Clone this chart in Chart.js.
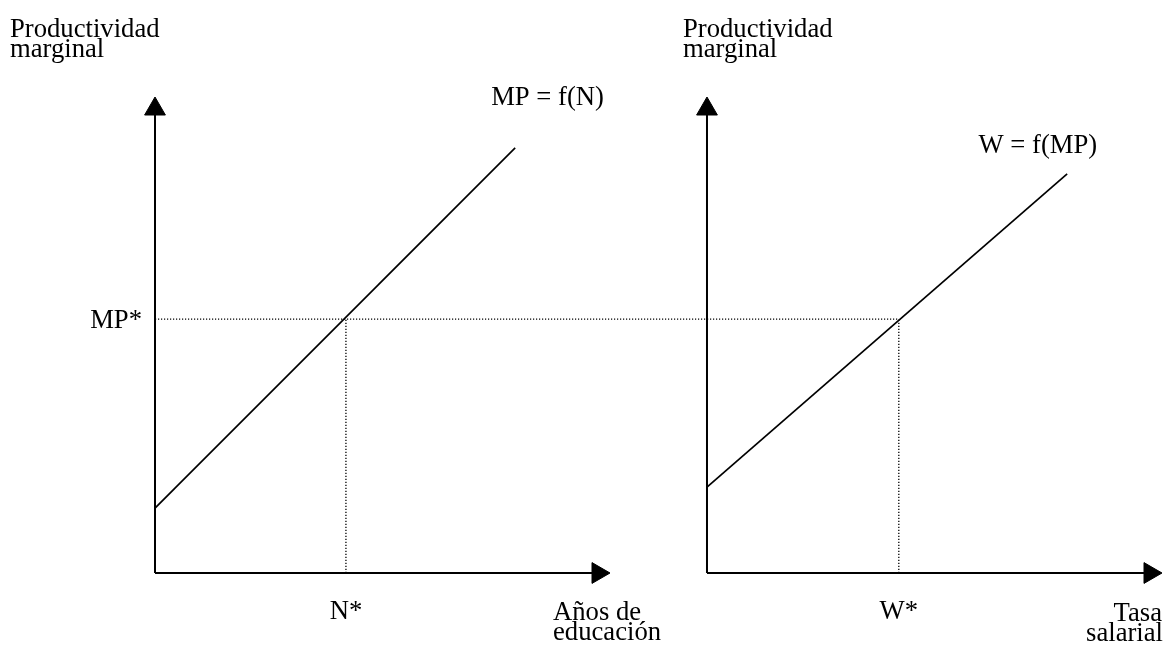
<!DOCTYPE html>
<html>
<head>
<meta charset="utf-8">
<script src="https://cdn.jsdelivr.net/npm/chart.js@4/dist/chart.umd.min.js"></script>
<style>
  html, body { margin: 0; padding: 0; background: #fff; }
  #wrap { position: relative; width: 1168px; height: 647px; }
</style>
</head>
<body>
<div id="wrap"><canvas id="c" width="1168" height="647"></canvas></div>
<script>
// ---------- data ----------
const yAxisTitle   = ["Productividad", "marginal"];
const xAxisTitles  = [["Años de", "educación"], ["Tasa", "salarial"]];
const curveLabels  = ["MP = f(N)", "W = f(MP)"];
const starLabels   = ["MP*", "N*", "W*"];
const starValues   = [5.47, 4.31, 4.33];      // MP*, N*, W*
const eduCurveX    = [0, 8.13];               // MP = f(N)
const eduCurveY    = [1.40, 9.16];
const wageCurveX   = [0, 8.13];               // W = f(MP)
const wageCurveY   = [1.85, 8.60];
const axisLength   = [10, 10];                // x-length, y-length of each panel

// ---------- layout ----------
const PANEL_OFFSET = 12.46;                   // horizontal origin of the right panel
const FONT = '26.67px "Liberation Serif", "Times New Roman", serif';
const [MPs, Ns, Ws] = starValues;

function pts(xs, ys, dx) { return xs.map((v, i) => ({ x: v + dx, y: ys[i] })); }

const axisDS = (data, rot) => ({
  data, borderColor: '#000', borderWidth: 2,
  pointRadius: [0, 12], pointStyle: 'triangle', pointRotation: rot,
  pointBackgroundColor: '#000', pointBorderColor: '#000', pointBorderWidth: 1,
  clip: false
});
const lineDS = (data) => ({
  data, borderColor: '#000', borderWidth: 1.7, pointRadius: 0, clip: false
});
const dotDS = (data) => ({
  data, borderColor: '#000', borderWidth: 1.3, borderDash: [1.2, 1.8], pointRadius: 0, clip: false
});

const datasets = [
  dotDS([{ x: 0, y: MPs }, { x: PANEL_OFFSET + Ws, y: MPs }]),
  dotDS([{ x: Ns, y: 0 }, { x: Ns, y: MPs }]),
  dotDS([{ x: PANEL_OFFSET + Ws, y: 0 }, { x: PANEL_OFFSET + Ws, y: MPs }]),
  axisDS([{ x: 0, y: 0 }, { x: 0, y: axisLength[1] }], 0),
  axisDS([{ x: 0, y: 0 }, { x: axisLength[0], y: 0 }], 90),
  axisDS([{ x: PANEL_OFFSET, y: 0 }, { x: PANEL_OFFSET, y: axisLength[1] }], 0),
  axisDS([{ x: PANEL_OFFSET, y: 0 }, { x: PANEL_OFFSET + axisLength[0], y: 0 }], 90),
  lineDS(pts(eduCurveX, eduCurveY, 0)),
  lineDS(pts(wageCurveX, wageCurveY, PANEL_OFFSET))
];

const labelPlugin = {
  id: 'diagramLabels',
  afterDatasetsDraw(chart) {
    const { ctx, scales: { x, y } } = chart;
    ctx.save();
    ctx.fillStyle = '#000';
    ctx.font = FONT;
    ctx.textBaseline = 'alphabetic';
    const t = (s, px, py, align) => { ctx.textAlign = align; ctx.fillText(s, px, py); };

    const top = y.getPixelForValue(axisLength[1]) - 12;   // arrow tip
    const base = y.getPixelForValue(0);
    [0, PANEL_OFFSET].forEach((off, i) => {
      const ox = x.getPixelForValue(off);
      const title = i === 0 ? ox - 145 : ox - 24;
      t(yAxisTitle[0], title, top - 60, 'left');
      t(yAxisTitle[1], title, top - 40, 'left');
    });

    // x-axis titles
    const endL = x.getPixelForValue(axisLength[0]);
    t(xAxisTitles[0][0], endL - 45, base + 47, 'left');
    t(xAxisTitles[0][1], endL - 45, base + 67, 'left');
    const endR = x.getPixelForValue(PANEL_OFFSET + axisLength[0]) + 12;
    t(xAxisTitles[1][0], endR, base + 48, 'right');
    t(xAxisTitles[1][1], endR + 1, base + 68, 'right');

    // curve labels
    const eEnd = { x: x.getPixelForValue(eduCurveX[1]), y: y.getPixelForValue(eduCurveY[1]) };
    t(curveLabels[0], eEnd.x - 24, eEnd.y - 43, 'left');
    const wEnd = { x: x.getPixelForValue(PANEL_OFFSET + wageCurveX[1]), y: y.getPixelForValue(wageCurveY[1]) };
    t(curveLabels[1], wEnd.x + 30, wEnd.y - 21, 'right');

    // star labels
    t(starLabels[0], x.getPixelForValue(0) - 13, y.getPixelForValue(MPs) + 9, 'right');
    t(starLabels[1], x.getPixelForValue(Ns), base + 46, 'center');
    t(starLabels[2], x.getPixelForValue(PANEL_OFFSET + Ws), base + 46, 'center');
    ctx.restore();
  }
};

new Chart(document.getElementById('c'), {
  type: 'scatter',
  data: { datasets: datasets.map(d => ({ ...d, showLine: true })) },
  options: {
    responsive: false,
    animation: false,
    events: [],
    layout: { padding: { left: 155, right: 18, top: 109, bottom: 74 } },
    plugins: { legend: { display: false }, tooltip: { enabled: false } },
    scales: {
      x: { type: 'linear', display: false, min: 0, max: PANEL_OFFSET + axisLength[0] },
      y: { type: 'linear', display: false, min: 0, max: axisLength[1] }
    }
  },
  plugins: [labelPlugin]
});
</script>
</body>
</html>
